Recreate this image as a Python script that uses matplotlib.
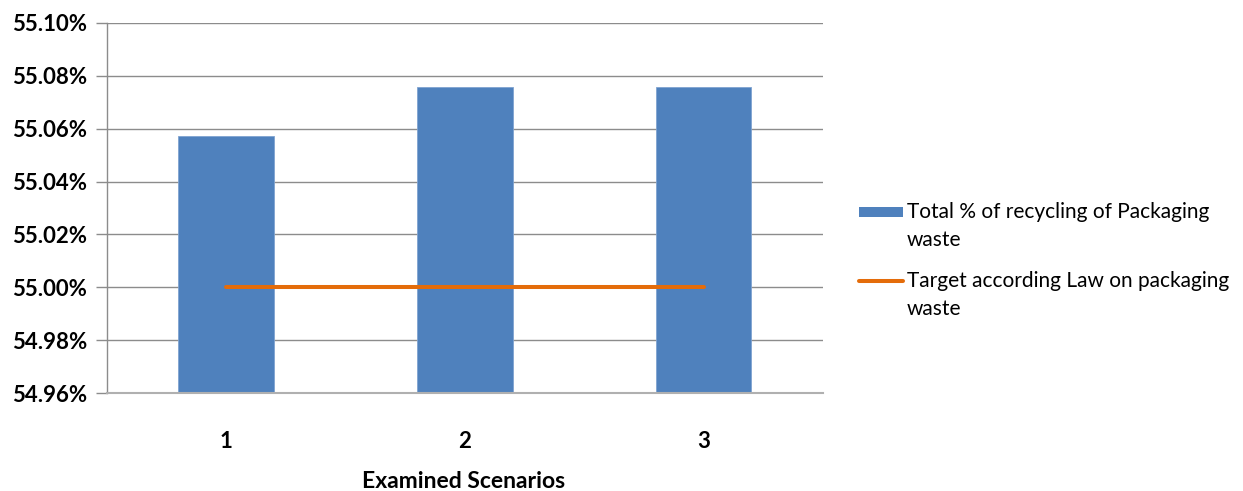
import matplotlib
matplotlib.use("Agg")
import matplotlib.pyplot as plt
from matplotlib.patches import Rectangle
from matplotlib.lines import Line2D
from matplotlib.ticker import FuncFormatter, MultipleLocator

scenarios = ["1", "2", "3"]
recycling_pct = [55.0572, 55.0756, 55.0756]
target_pct = [55.00, 55.00, 55.00]

bar_label = "Total % of recycling of Packaging\nwaste"
line_label = "Target according Law on packaging\nwaste"

BAR_COLOR = "#4F81BD"
LINE_COLOR = "#E46C0A"
W, H = 1243, 491

plt.rcParams["font.family"] = ["Lato", "DejaVu Sans"]

fig = plt.figure(figsize=(W / 100, H / 100), dpi=100)
ax = fig.add_axes([106.7 / W, 1 - 393.3 / H, (823 - 106.7) / W, (393.3 - 22.7) / H])

x = list(range(1, len(scenarios) + 1))
ax.bar(x, [v - 54.96 for v in recycling_pct], bottom=54.96, width=0.4,
       color=BAR_COLOR, edgecolor="#7FA3D0", linewidth=0.6, zorder=2)
ax.plot(x, target_pct, color=LINE_COLOR, linewidth=2.9, solid_capstyle="round", zorder=3)

ax.set_xlim(0.5, 3.5)
ax.set_ylim(54.96, 55.10)
ax.yaxis.set_major_locator(MultipleLocator(0.02))
ax.yaxis.set_major_formatter(FuncFormatter(lambda v, p: f"{v:.2f}%"))
ax.set_xticks(x)
ax.set_xticklabels(scenarios)

ax.grid(axis="y", color="#8C8C8C", linewidth=1.0, zorder=0)
ax.set_axisbelow(True)
for side in ("top", "right"):
    ax.spines[side].set_visible(False)
ax.spines["left"].set_color("#8C8C8C")
ax.spines["bottom"].set_color("#B0B0B0")
ax.spines["left"].set_linewidth(1.0)
ax.spines["bottom"].set_linewidth(1.5)

ax.tick_params(axis="y", length=8, color="#8C8C8C", width=1.0, pad=6)
ax.tick_params(axis="x", length=0, pad=27)
fig.canvas.draw()
for lbl in ax.get_yticklabels() + ax.get_xticklabels():
    lbl.set_fontweight("bold")
    lbl.set_fontsize(16)

# axis title below the category labels
fig.text(464 / W, 1 - 481 / H, "Examined Scenarios", fontsize=16.5,
         fontweight="bold", ha="center", va="center")

# legend: swatch/line on the first text line, wrapped labels with wide leading
def fy(py):
    return 1 - py / H

fig.add_artist(Rectangle((859 / W, fy(217)), 44 / W, 10 / H,
                         transform=fig.transFigure, facecolor=BAR_COLOR,
                         edgecolor="none"))
fig.add_artist(Line2D([859 / W, 903 / W], [fy(281), fy(281)],
                      transform=fig.transFigure, color=LINE_COLOR,
                      linewidth=2.9, solid_capstyle="round"))
for label, top in ((bar_label, 212), (line_label, 281)):
    for i, part in enumerate(label.split("\n")):
        fig.text(907 / W, fy(top + 28 * i), part, fontsize=15,
                 ha="left", va="center")

fig.savefig("out.png", dpi=100, facecolor="white")
